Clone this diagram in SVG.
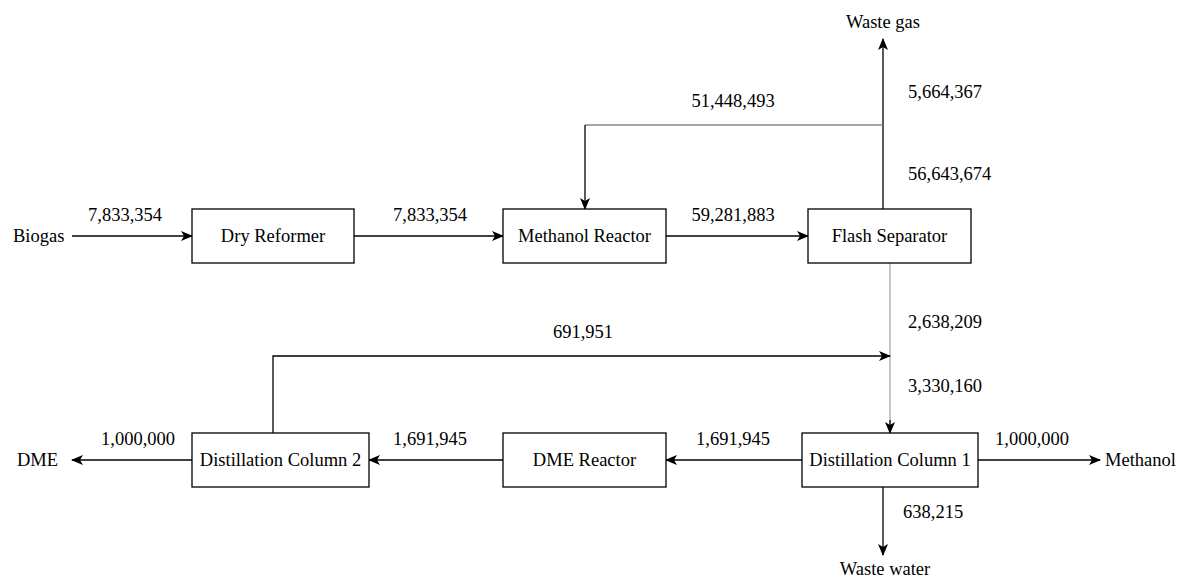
<svg xmlns="http://www.w3.org/2000/svg" width="1178" height="579" viewBox="0 0 1178 579">
<style>
text{font-size:18.5px;fill:#000}
.box{fill:#fff;stroke:#000;stroke-width:1.3}
.c{text-anchor:middle}
.ln{fill:none;stroke:#000;stroke-width:1.3}
.g{stroke:#888}
.lg{stroke:#aaa}
</style>
<defs>
<marker id="ar" viewBox="0 0 12 10" refX="11" refY="5" markerWidth="12" markerHeight="10" markerUnits="userSpaceOnUse" orient="auto">
<path d="M0,0 L12,5 L0,10 L3,5 z" fill="#000"/>
</marker>
</defs>
<rect width="1178" height="579" fill="#fff"/>
<g id="connectors">
<path class="ln" d="M72,236 H192" marker-end="url(#ar)"/>
<path class="ln" d="M354,236 H503" marker-end="url(#ar)"/>
<path class="ln" d="M666,236 H808" marker-end="url(#ar)"/>
<path class="ln" d="M883,209 V39" marker-end="url(#ar)"/>
<path class="ln g" d="M883,125 H585"/>
<path class="ln" d="M585,125 V209" marker-end="url(#ar)"/>
<path class="ln lg" d="M890,263 V433"/>
<path class="ln" d="M890,420 V433" marker-end="url(#ar)"/>
<path class="ln" d="M273,433 V356 H890" marker-end="url(#ar)"/>
<path class="ln" d="M978,460 H1100" marker-end="url(#ar)"/>
<path class="ln" d="M883,487 V555" marker-end="url(#ar)"/>
<path class="ln" d="M802,460 H666" marker-end="url(#ar)"/>
<path class="ln" d="M503,460 H369" marker-end="url(#ar)"/>
<path class="ln" d="M192,460 H72" marker-end="url(#ar)"/>
</g>
<g font-family="'Liberation Serif', 'DejaVu Serif', serif">
<g id="labels">
<text x="13" y="242">Biogas</text>
<text class="c" x="125" y="221">7,833,354</text>
<text class="c" x="430" y="221">7,833,354</text>
<text class="c" x="733" y="221">59,281,883</text>
<text class="c" x="883" y="28">Waste gas</text>
<text class="c" x="733" y="107">51,448,493</text>
<text x="908" y="98">5,664,367</text>
<text x="908" y="180">56,643,674</text>
<text x="908" y="328">2,638,209</text>
<text x="908" y="392">3,330,160</text>
<text class="c" x="583" y="338">691,951</text>
<text x="17" y="466">DME</text>
<text class="c" x="138" y="445">1,000,000</text>
<text class="c" x="430" y="445">1,691,945</text>
<text class="c" x="733" y="445">1,691,945</text>
<text class="c" x="1032" y="445">1,000,000</text>
<text x="1105" y="466">Methanol</text>
<text x="903" y="518">638,215</text>
<text class="c" x="885" y="575">Waste water</text>
</g>
<g id="dry-reformer"><rect class="box" x="192" y="209" width="162" height="54"/><text class="c" x="273" y="242">Dry Reformer</text></g>
<g id="methanol-reactor"><rect class="box" x="503" y="209" width="163" height="54"/><text class="c" x="584.5" y="242">Methanol Reactor</text></g>
<g id="flash-separator"><rect class="box" x="808" y="209" width="163" height="54"/><text class="c" x="889.5" y="242">Flash Separator</text></g>
<g id="distillation-column-1"><rect class="box" x="802" y="433" width="176" height="54"/><text class="c" x="890" y="466">Distillation Column 1</text></g>
<g id="dme-reactor"><rect class="box" x="503" y="433" width="163" height="54"/><text class="c" x="584.5" y="466">DME Reactor</text></g>
<g id="distillation-column-2"><rect class="box" x="192" y="433" width="177" height="54"/><text class="c" x="280.5" y="466">Distillation Column 2</text></g>
</g>
</svg>
